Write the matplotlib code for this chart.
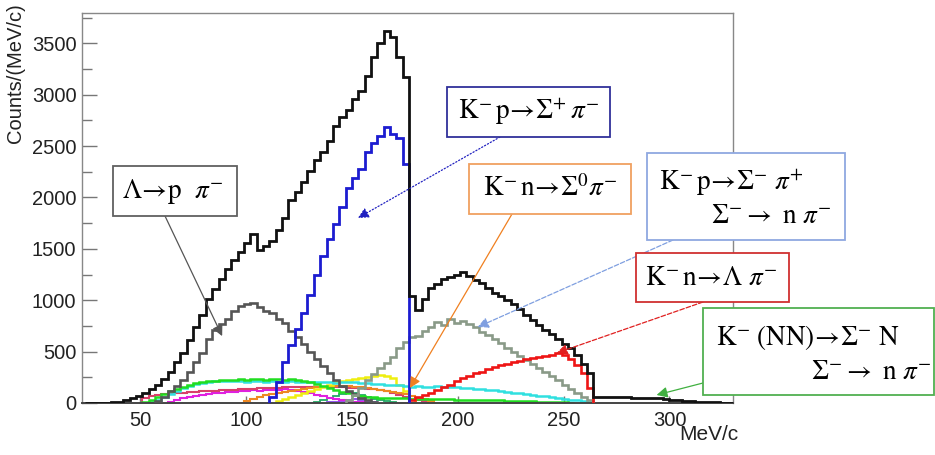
import numpy as np
import matplotlib
matplotlib.use('Agg')
import matplotlib.pyplot as plt
from matplotlib.patches import Rectangle
from matplotlib.ticker import MultipleLocator

plt.rcParams['mathtext.fontset'] = 'stix'
plt.rcParams['font.family'] = ['Liberation Sans', 'DejaVu Sans']

# momentum histograms, 3 MeV/c bins; each series = first bin edge + counts
BIN = 3

total_start = 24
total_counts = [0, 0, 2, 4, 8, 14, 25, 45, 70, 98,
                135, 180, 235, 300, 400, 490, 615, 740, 860, 1010,
                1110, 1210, 1300, 1390, 1470, 1560, 1640, 1490, 1530, 1580,
                1680, 1800, 1980, 2050, 2150, 2260, 2360, 2440, 2550, 2700,
                2780, 2850, 2960, 3040, 3180, 3370, 3500, 3620, 3560, 3370,
                3170, 1040, 905, 1010, 1120, 1160, 1210, 1230, 1250, 1270,
                1240, 1200, 1170, 1120, 1075, 1040, 1000, 965, 910, 860,
                810, 760, 715, 670, 620, 575, 540, 470, 380, 290,
                62, 60, 58, 57, 55, 54, 52, 50, 50, 48,
                44, 38, 33, 28, 22, 18, 14, 10, 8, 6,
                4, 3]

sigplus_start = 111
sigplus_counts = [60, 200, 400, 560, 720, 880, 1050, 1250, 1430, 1600, 1740,
                  1910, 2090, 2190, 2280, 2440, 2530, 2600, 2690, 2620, 2580, 2330]

lambda_start = 57
lambda_counts = [20, 60, 120, 170, 220, 300, 400, 490, 620, 710, 770, 820,
                 900, 940, 960, 970, 930, 900, 880, 820, 780, 700, 640, 570,
                 500, 430, 360, 290, 220, 170, 120, 90, 50, 25, 10, 4]

sigminus_start = 147
sigminus_counts = [30, 80, 150, 220, 280, 340, 390, 450, 540, 590, 640, 650,
                   700, 740, 790, 760, 820, 780, 800, 770, 740, 690, 660, 620,
                   580, 540, 500, 460, 420, 380, 340, 300, 260, 220, 180, 140,
                   100, 60, 25]

lampi_start = 177
lampi_counts = [30, 60, 80, 100, 130, 160, 180, 210, 240, 260, 290, 300, 330,
                350, 370, 380, 400, 410, 430, 440, 450, 460, 470, 490, 470,
                430, 370, 290, 150]

green_start = 51
green_counts = [5, 30, 60, 90, 120, 140, 160, 175, 190, 200, 210, 215, 220,
                225, 220, 230, 225, 235, 230, 225, 235, 230, 225, 230, 225,
                215, 200, 185, 170, 150, 130, 110, 95, 80, 70, 60, 55, 50, 50,
                45, 45, 45, 40, 40, 40, 40, 38, 36, 35, 34, 33, 32, 30, 30, 28,
                26, 25, 24, 22, 20, 18, 16, 14, 12, 10, 8, 6, 4]

cyan_start = 54
cyan_counts = [10, 30, 60, 90, 120, 150, 170, 185, 195, 205, 210, 215, 215,
               210, 212, 208, 214, 210, 206, 212, 208, 205, 210, 204, 208, 203,
               206, 200, 204, 198, 202, 200,
               205, 198, 192, 188, 184, 180, 176, 172, 168,
               160, 164, 160, 158, 161, 155, 152, 153, 148, 144, 140, 135,
               130, 122, 115, 108, 100, 93, 86, 79, 72, 65, 58, 50, 42, 34,
               26, 16, 6]

yellow_start = 114
yellow_counts = [20, 40, 60, 80, 100, 120, 140, 160, 180, 200, 215, 225, 235,
                 240, 255, 260, 270, 265, 240, 180, 120, 40]

magenta_start = 63
magenta_counts = [10, 30, 50, 60, 70, 80, 85, 95, 100, 105, 110, 115, 120,
                  125, 120, 125, 130, 130, 135, 130, 120, 110, 95, 80, 65, 50,
                  38, 28, 20, 12, 6]

pink_start = 51
pink_counts = [50, 65, 75, 85, 90, 95, 100, 105, 110, 115, 118, 120, 125, 128,
               130, 135, 138, 140, 142, 145, 148, 150, 152, 155, 155, 158, 160,
               160, 160, 158, 156, 152, 150, 148, 145, 140, 135, 130, 120, 100,
               80, 60, 40, 25, 15]

orange_start = 99
orange_counts = [20, 40, 60, 75, 90, 100, 110, 120, 130, 140, 150, 155, 160,
                 165, 170, 168, 165, 160, 155, 150, 140, 130, 120, 110, 100, 90,
                 70, 50, 35, 20]

teal_start = 132
teal_counts = [10, 25, 45, 70, 90, 100, 95, 80, 60, 40, 25, 15, 8]

violet_start = 138
violet_counts = [5, 10, 20, 30, 35, 30, 20, 10]

# arrow tips of the channel labels, in (MeV/c, counts)
tip_x = [88.7, 152.8, 177.4, 209.4, 246.7, 293.9]
tip_y = [651, 1800, 146, 739, 486, 78]

W, H = 935, 455
fig = plt.figure(figsize=(W / 100, H / 100), dpi=100)
ax = fig.add_axes([82 / W, 1 - 403 / H, (733 - 82) / W, (403 - 12.5) / H])


def draw(start, counts, color, lw, z):
    edges = start + BIN * np.arange(len(counts) + 1)
    ax.stairs(counts, edges, color=color, lw=lw, zorder=z)


draw(violet_start, violet_counts, '#8844ee', 1.3, 2)
draw(teal_start, teal_counts, '#22aa66', 1.3, 2)
draw(magenta_start, magenta_counts, '#e020e0', 1.5, 2)
draw(pink_start, pink_counts, '#d8406a', 1.5, 2)
draw(orange_start, orange_counts, '#ee8822', 1.5, 2)
draw(yellow_start, yellow_counts, '#eeee10', 1.8, 2)
draw(cyan_start, cyan_counts, '#30e0e0', 1.8, 2)
draw(green_start, green_counts, '#20dd20', 1.8, 2)
draw(lambda_start, lambda_counts, '#555555', 1.9, 3)
draw(sigminus_start, sigminus_counts, '#8a9a88', 1.9, 3)
draw(lampi_start, lampi_counts, '#ee1515', 1.9, 3)
draw(sigplus_start, sigplus_counts, '#1c1cd0', 2.0, 3)
draw(total_start, total_counts, '#111111', 2.0, 4)

ax.set_xlim(22.5, 330)
ax.set_ylim(0, 3800)
ax.set_xticks(np.arange(50, 301, 50))
ax.set_yticks(np.arange(0, 3501, 500))
ax.yaxis.set_minor_locator(MultipleLocator(250))
ax.tick_params(axis='y', which='major', direction='in', length=11, width=1,
               color='#777777', pad=4, labelsize=14.5, labelcolor='#222222')
ax.tick_params(axis='y', which='minor', direction='in', length=7, width=1,
               color='#777777')
ax.tick_params(axis='x', which='major', direction='in', length=5, width=1,
               color='#777777', pad=6, labelsize=14.5, labelcolor='#222222')
for side in ['left', 'top', 'right']:
    ax.spines[side].set_color('#888888')
    ax.spines[side].set_linewidth(1)
ax.spines['bottom'].set_color('#444444')
ax.spines['bottom'].set_linewidth(1.4)

fig.text(16 / W, 1 - 3 / H, 'Counts/(MeV/c)', rotation=90, ha='center',
         va='top', fontsize=14.5, color='#222222')
fig.text(738 / W, 1 - 434 / H, 'MeV/c', ha='right', va='center',
         fontsize=15, color='#222222')


def box(x0, y0, x1, y1, color):
    fig.add_artist(Rectangle((x0 / W, 1 - y1 / H), (x1 - x0) / W, (y1 - y0) / H,
                             transform=fig.transFigure, facecolor='white',
                             edgecolor=color, lw=1.3, zorder=5))


def label(x, y, s, ha='center'):
    fig.text(x / W, 1 - y / H, s, ha=ha, va='center', fontsize=19.5, zorder=6)


def pointer(x, y, i, color, ls):
    ax.annotate('', xy=(tip_x[i], tip_y[i]), xycoords='data',
                xytext=(x, H - y), textcoords='figure pixels',
                arrowprops=dict(arrowstyle='-|>', color=color, lw=0.9, ls=ls,
                                shrinkA=0, shrinkB=0, mutation_scale=16),
                annotation_clip=False, zorder=5)


box(113, 166, 237, 216, '#606060')
label(173, 191, r'$\Lambda\!\rightarrow\!\mathrm{p}\ \ \pi^{-}$')
pointer(165, 216, 0, '#555555', '-')

box(447, 87, 610, 137, '#30309a')
label(529, 112, r'$\mathrm{K}^{-}\,\mathrm{p}\!\rightarrow\!\Sigma^{+}\,\pi^{-}$')
pointer(500, 137, 1, '#2020c0', ':')

box(469, 164, 631, 214, '#f0a060')
label(550, 189, r'$\mathrm{K}^{-}\,\mathrm{n}\!\rightarrow\!\Sigma^{0}\pi^{-}$')
pointer(512, 214, 2, '#f08020', '-')

box(647, 153, 845, 240, '#8fa8e0')
label(659, 183, r'$\mathrm{K}^{-}\,\mathrm{p}\!\rightarrow\!\Sigma^{-}\ \pi^{+}$', ha='left')
label(711, 216, r'$\Sigma^{-}\rightarrow\ \mathrm{n}\ \pi^{-}$', ha='left')
pointer(673, 240, 3, '#7f9fe0', '--')

box(636, 253, 789, 302, '#d03030')
label(711, 278, r'$\mathrm{K}^{-}\,\mathrm{n}\!\rightarrow\!\Lambda\ \pi^{-}$')
pointer(703, 302, 4, '#e02020', '--')

box(703, 308, 934, 395, '#50b050')
label(716, 337, r'$\mathrm{K}^{-}\ (\mathrm{NN})\!\rightarrow\!\Sigma^{-}\ \mathrm{N}$', ha='left')
label(811, 372, r'$\Sigma^{-}\rightarrow\ \mathrm{n}\ \pi^{-}$', ha='left')
pointer(703, 383, 5, '#40b040', '-')

fig.savefig('out.png', dpi=100)
